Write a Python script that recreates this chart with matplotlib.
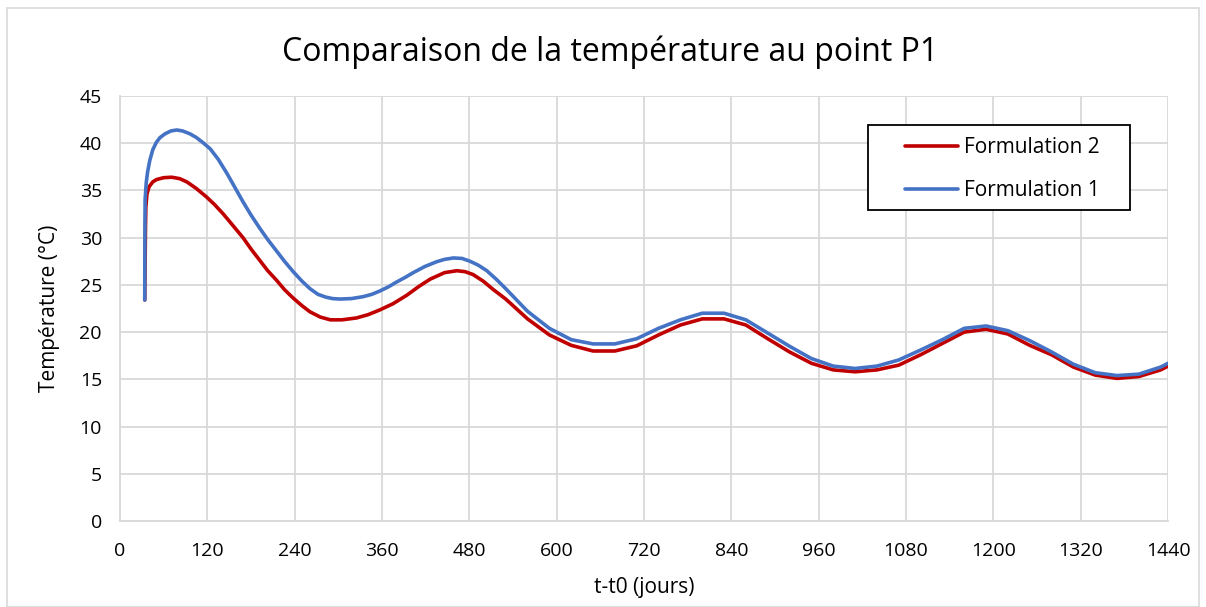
import matplotlib
matplotlib.use("Agg")
import matplotlib.pyplot as plt
from matplotlib.patches import Rectangle

plt.rcParams['font.family'] = ['Open Sans', 'DejaVu Sans']

# Time since t0 (days) and temperature (°C) at point P1
days_f1 = [34, 34.2, 34.5, 36, 38, 41, 45, 50, 55, 62, 70, 78, 86, 96, 105, 115,
           124, 135, 147, 158, 169, 180, 192, 203, 215, 226, 238, 250, 261, 272,
           283, 292, 302, 318, 334, 346, 357, 369, 380, 392, 403, 419, 435, 446,
           458, 470, 481, 492, 504, 517, 530, 560, 590, 620, 650, 680, 710, 740,
           770, 800, 830, 860, 890, 920, 950, 980, 1010, 1040, 1070, 1100, 1130,
           1160, 1190, 1220, 1250, 1280, 1310, 1340, 1370, 1400, 1430, 1440]
temp_f1 = [23.4, 30.0, 34.0, 35.8, 37.0, 38.2, 39.3, 40.1, 40.6, 41.0, 41.3, 41.4,
           41.3, 41.0, 40.6, 40.0, 39.4, 38.3, 36.8, 35.3, 33.8, 32.4, 31.0, 29.8,
           28.6, 27.5, 26.4, 25.4, 24.6, 24.0, 23.7, 23.55, 23.5, 23.55, 23.75,
           24.0, 24.35, 24.8, 25.3, 25.8, 26.3, 26.95, 27.45, 27.7, 27.85, 27.8,
           27.5, 27.1, 26.5, 25.6, 24.6, 22.2, 20.4, 19.2, 18.75, 18.75, 19.3,
           20.4, 21.3, 22.0, 22.0, 21.3, 19.9, 18.5, 17.2, 16.4, 16.15, 16.4,
           17.05, 18.1, 19.2, 20.4, 20.65, 20.15, 19.1, 17.9, 16.6, 15.7, 15.4,
           15.55, 16.3, 16.7]

days_f2 = [34, 35, 35.5, 37, 40, 45, 50, 60, 71, 82, 92, 105, 119, 130, 142, 155,
           169, 180, 192, 203, 215, 226, 238, 250, 261, 275, 289, 305, 325, 341,
           357, 375, 394, 410, 426, 446, 463, 474, 485, 499, 513, 530, 560, 590,
           620, 650, 680, 710, 740, 770, 800, 830, 860, 890, 920, 950, 980, 1010,
           1040, 1070, 1100, 1130, 1160, 1190, 1220, 1250, 1280, 1310, 1340,
           1370, 1400, 1430, 1440]
temp_f2 = [23.4, 31.0, 33.2, 34.6, 35.4, 35.9, 36.15, 36.35, 36.4, 36.25, 35.9,
           35.2, 34.3, 33.5, 32.5, 31.3, 30.0, 28.8, 27.6, 26.5, 25.5, 24.5, 23.6,
           22.8, 22.15, 21.6, 21.3, 21.3, 21.5, 21.85, 22.35, 23.0, 23.9, 24.8,
           25.6, 26.3, 26.5, 26.4, 26.1, 25.4, 24.5, 23.5, 21.4, 19.7, 18.6, 18.0,
           18.0, 18.55, 19.7, 20.75, 21.4, 21.4, 20.75, 19.3, 17.9, 16.7, 16.0,
           15.8, 16.0, 16.5, 17.6, 18.8, 20.0, 20.3, 19.8, 18.6, 17.6, 16.3,
           15.45, 15.1, 15.3, 16.0, 16.4]

x_ticks = list(range(0, 1441, 120))
y_ticks = list(range(0, 46, 5))

W, H = 1206, 607
fig = plt.figure(figsize=(W / 100, H / 100), dpi=100)
ax = fig.add_axes([120 / W, 86 / H, 1048 / W, 425 / H])

ax.plot(days_f2, temp_f2, color='#C00000', lw=2.6, label='Formulation 2',
        solid_capstyle='round', solid_joinstyle='round', zorder=3)
ax.plot(days_f1, temp_f1, color='#4472C4', lw=2.6, label='Formulation 1',
        solid_capstyle='round', solid_joinstyle='round', zorder=4)

ax.set_xlim(0, 1440)
ax.set_ylim(0, 45)
ax.set_xticks(x_ticks)
ax.set_yticks(y_ticks)
ax.tick_params(length=0, labelsize=14, colors='#000000')
ax.tick_params(axis='x', pad=15)
ax.tick_params(axis='y', pad=13)
ax.grid(True, color='#D9D9D9', lw=1.3)
ax.set_axisbelow(True)
for side in ['top', 'right']:
    ax.spines[side].set_visible(False)
for side in ['left', 'bottom']:
    ax.spines[side].set_color('#D9D9D9')
    ax.spines[side].set_linewidth(1.3)

ax.set_xlabel('t-t0 (jours)', fontsize=15, labelpad=12)
ax.set_ylabel('Température (°C)', fontsize=15, labelpad=14)
fig.text(0.506, 1 - 52 / H, 'Comparaison de la température au point P1',
         ha='center', va='center', fontsize=23)

# Legend entries, with a separately drawn black frame around them
leg = ax.legend(loc='upper left', bbox_to_anchor=(905 / W, 1 - 137 / H),
                bbox_transform=fig.transFigure, frameon=False, fontsize=15,
                handlelength=2.55, borderpad=0, labelspacing=1.05,
                handletextpad=0.3, borderaxespad=0)
leg.set_zorder(7)
ax.add_patch(Rectangle((868 / W, 1 - 210 / H), 262 / W, 85 / H,
                       transform=fig.transFigure, facecolor='white',
                       edgecolor='#000000', lw=1.3, zorder=6, clip_on=False))

fig.patches.append(Rectangle((7 / W, 0), 1192 / W, 1 - 8 / H,
                             transform=fig.transFigure, fill=False,
                             edgecolor='#D9D9D9', lw=1.2))

fig.savefig('out.png', dpi=100)
